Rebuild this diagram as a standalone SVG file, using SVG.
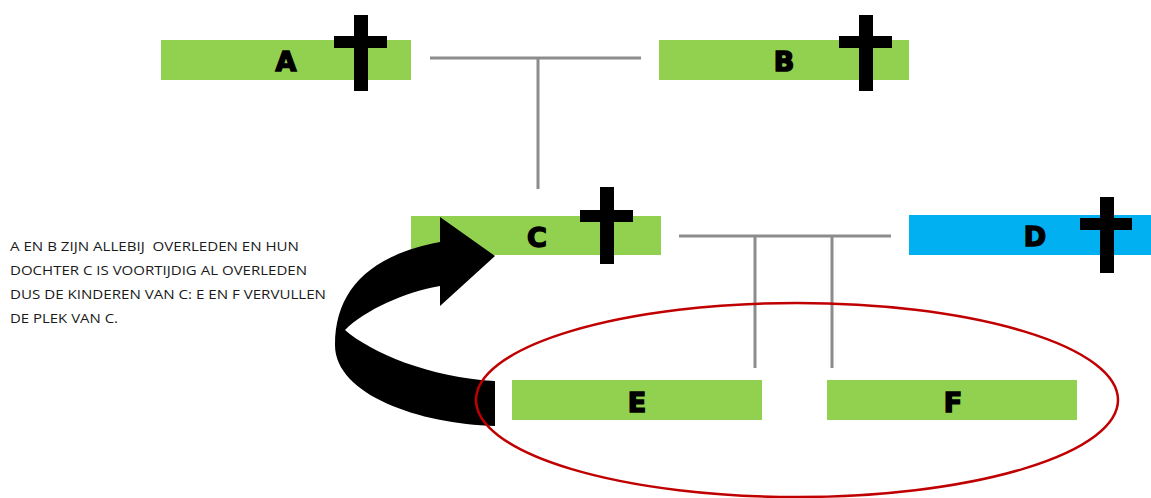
<svg xmlns="http://www.w3.org/2000/svg" width="1151" height="498" viewBox="0 0 1151 498">
<style>
.g{fill:#92D050}
.b{fill:#00B0F0}
.lbl{font-family:"DejaVu Sans",sans-serif;font-weight:bold;font-size:27px;fill:#000;stroke:#000;stroke-width:1.5;text-anchor:middle}
.x{fill:#000}
.ln{stroke:#8C8C8C;stroke-width:3;fill:none}
.note{font-family:"Open Sans","Liberation Sans",sans-serif;font-size:12.8px;fill:#1a1a1a}
</style>
<rect width="1151" height="498" fill="#fff"/>
<g id="connectors">
<path class="ln" d="M430,58 H641 M538,58 V189"/>
<path class="ln" d="M679,236 H891 M755,236 V368 M832,236 V368"/>
</g>
<g id="A">
<rect class="g" x="161" y="40" width="250" height="40"/>
<text class="lbl" x="286" y="71">A</text>
<rect class="x" x="354" y="15" width="14" height="76"/>
<rect class="x" x="334" y="36" width="53" height="12"/>
</g>
<g id="B">
<rect class="g" x="659" y="40" width="250" height="40"/>
<text class="lbl" x="784" y="71">B</text>
<rect class="x" x="859" y="15" width="14" height="76"/>
<rect class="x" x="839" y="36" width="53" height="12"/>
</g>
<g id="C">
<rect class="g" x="411" y="216" width="250" height="39"/>
<text class="lbl" x="537" y="247">C</text>
<rect class="x" x="600" y="187" width="14" height="77"/>
<rect class="x" x="580" y="210" width="53" height="12"/>
</g>
<g id="D">
<rect class="b" x="909" y="215" width="242" height="40"/>
<text class="lbl" x="1035" y="246">D</text>
<rect class="x" x="1100" y="197" width="14" height="76"/>
<rect class="x" x="1080" y="218" width="52" height="12"/>
</g>
<g id="E">
<rect class="g" x="512" y="380" width="250" height="40"/>
<text class="lbl" x="637" y="412">E</text>
</g>
<g id="F">
<rect class="g" x="827" y="380" width="250" height="40"/>
<text class="lbl" x="953" y="412">F</text>
</g>
<g id="arrow">
<path fill="#000" d="M495,426 C420,424 335,395 335,345 C335,290 370,255 440,242 L440,217 L495,256 L440,306 L440,286 C405,292 365,310 345,330 C370,352 430,378 495,381 Z"/>
</g>
<g id="ellipse">
<ellipse cx="797" cy="400" rx="321" ry="97" fill="none" stroke="#C00000" stroke-width="2.5"/>
</g>
<g id="note">
<text class="note" x="10" y="251" textLength="289" lengthAdjust="spacingAndGlyphs" xml:space="preserve">A EN B ZIJN ALLEBIJ  OVERLEDEN EN HUN</text>
<text class="note" x="10" y="275" textLength="297" lengthAdjust="spacingAndGlyphs">DOCHTER C IS VOORTIJDIG AL OVERLEDEN</text>
<text class="note" x="10" y="299" textLength="316" lengthAdjust="spacingAndGlyphs">DUS DE KINDEREN VAN C: E EN F VERVULLEN</text>
<text class="note" x="10" y="323" textLength="108" lengthAdjust="spacingAndGlyphs">DE PLEK VAN C.</text>
</g>
</svg>
